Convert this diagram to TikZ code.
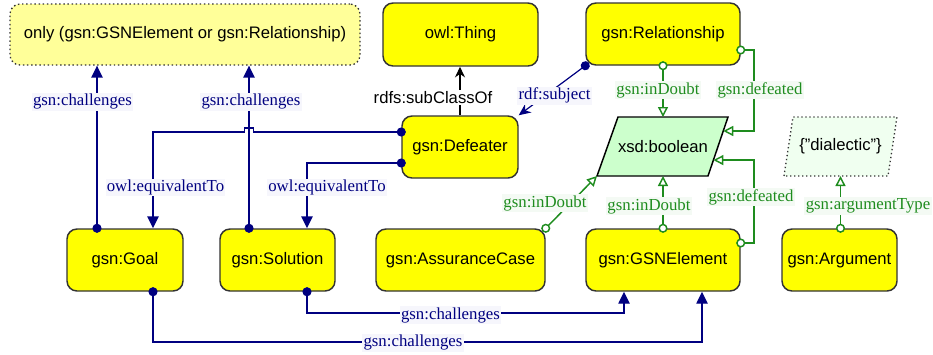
\documentclass[tikz,border=0pt]{standalone}
\usepackage{fontspec}
\setmainfont{Liberation Serif}
\setsansfont{Liberation Sans}
\usetikzlibrary{arrows.meta,calc}
\definecolor{navyc}{HTML}{000080}
\definecolor{greenc}{HTML}{1E8C1E}
\definecolor{yel}{HTML}{FFFF00}
\definecolor{paleyel}{HTML}{FFFF99}
\definecolor{palegreen}{HTML}{CCFFCC}
\definecolor{palergreen}{HTML}{F0FFF0}
\definecolor{bord}{HTML}{333333}
\definecolor{nvbg}{HTML}{F6F6FC}
\definecolor{grbg}{HTML}{F4FAF4}
\tikzset{
  cls/.style={draw=bord, line width=1.1pt, fill=yel, rounded corners=7.5pt,
    minimum height=62*0.75pt, font=\sffamily\fontsize{12.5pt}{14pt}\selectfont, inner sep=0pt},
  nv/.style={draw=navyc, line width=1.1pt},
  gr/.style={draw=greenc, line width=1.1pt},
  dotarr/.style={{Circle[length=6.8pt,width=6.8pt]}-{Triangle[length=9pt,width=8.5pt]}, shorten <=-3.4pt},
  ocarr/.style={{Circle[open,length=6.8pt,width=6.8pt,fill=white]}-{Triangle[open,length=7.5pt,width=7.5pt,fill=white]}, shorten <=-3.4pt},
  nvlbl/.style={text=navyc, fill=nvbg, inner sep=1pt, font=\fontsize{12.6pt}{14pt}\selectfont},
  grlbl/.style={text=greenc, fill=grbg, inner sep=1pt, font=\fontsize{12.6pt}{14pt}\selectfont},
  bklbl/.style={text=black, fill=white, inner sep=1pt, font=\sffamily\fontsize{12.5pt}{14pt}\selectfont},
}
\begin{document}
\begin{tikzpicture}[x=0.75pt,y=-0.75pt]
\useasboundingbox (0,0) rectangle (933,354);
% nodes
\node[cls, fill=paleyel, draw=bord, dotted, line width=1pt, minimum width=350*0.75pt, minimum height=61*0.75pt] (only) at (185,34.5) {only (gsn:GSNElement or gsn:Relationship)};
\node[cls, minimum width=155*0.75pt, minimum height=63*0.75pt] (thing) at (460.5,34.5) {owl:Thing};
\node[cls, minimum width=154*0.75pt] (rel) at (663,34) {gsn:Relationship};
\node[cls, minimum width=116*0.75pt] (def) at (460,147) {gsn:Defeater};
\node[cls, minimum width=116*0.75pt] (goal) at (125,260) {gsn:Goal};
\node[cls, minimum width=115*0.75pt] (sol) at (277.5,260) {gsn:Solution};
\node[cls, minimum width=169*0.75pt] (ac) at (460.5,260) {gsn:AssuranceCase};
\node[cls, minimum width=154*0.75pt] (gsne) at (663,260) {gsn:GSNElement};
\node[cls, minimum width=115*0.75pt] (arg) at (839.5,260) {gsn:Argument};
% parallelograms
\path (597,176) coordinate (xsdBL) (618,117) coordinate (xsdTL) (728,117) coordinate (xsdTR) (708,176) coordinate (xsdBR);
\filldraw[fill=palegreen, draw=black, line width=1.1pt] (xsdBL) -- (xsdTL) -- (xsdTR) -- (xsdBR) -- cycle;
\node[font=\sffamily\fontsize{12.5pt}{14pt}\selectfont, inner sep=0pt] (xsd) at (663,146.5) {xsd:boolean};
\path (784,176) coordinate (dBL) (793,117) coordinate (dTL) (897,117) coordinate (dTR) (888,176) coordinate (dBR);
\filldraw[fill=palergreen, draw=bord, dotted, line width=1pt] (dBL) -- (dTL) -- (dTR) -- (dBR) -- cycle;
\node[font=\sffamily\fontsize{12.5pt}{14pt}\selectfont, inner sep=0pt] (dia) at (840.5,146.5) {\{"dialectic"\}};
% guide coordinates
\coordinate (xA) at (97,0);
\coordinate (xB) at (249,0);
\coordinate (xC) at (153,0);
\coordinate (xD) at (307,0);
\coordinate (xE) at (624,0);
\coordinate (xF) at (702,0);
\coordinate (xG) at (754,0);
\coordinate (yA) at (0,132);
\coordinate (yB) at (0,163);
\coordinate (yC) at (0,313);
\coordinate (yD) at (0,342);
\coordinate (yE) at (0,50);
\coordinate (yF) at (0,243);
% navy edges
\draw[nv,dotarr] (goal.north -| xA) -- (only.south -| xA);
\draw[nv,dotarr] (sol.north -| xB) -- (only.south -| xB);
\draw[nv,dotarr] (def.west |- yA) -- ($(xB |- yA)+(4.5,0)$) -- ++(0,-4) -- ++(-9,0) -- ++(0,4) -| (goal.north -| xC);
\draw[nv,dotarr] (def.west |- yB) -| (sol.north -| xD);
\draw[nv,dotarr] (sol.south -| xD) |- (xE |- yC) -- (gsne.south -| xE);
\draw[nv,dotarr] (goal.south -| xC) |- (xF |- yD) -- (gsne.south -| xF);
\draw[nv,line width=0.9pt,{Circle[length=6.8pt,width=6.8pt]}-{Stealth[length=9pt,width=8pt]}, shorten <=-3.4pt] (rel.south west) -- (def.north east);
% black subclass
\draw[line width=1pt,-{Stealth[length=8pt,width=7.5pt]}] (def.north) -- (def.north |- thing.south);
% green edges
\draw[gr,ocarr] (rel.south) -- (rel.south |- xsdTL);
\draw[gr,ocarr] (rel.east |- yE) -- (xG |- yE) |- ($(xsdTR)!0.237!(xsdBR)$);
\draw[gr,ocarr] (gsne.east |- yF) -- (xG |- yF) |- ($(xsdTR)!0.73!(xsdBR)$);
\draw[gr,ocarr] (gsne.north) -- (gsne.north |- xsdBL);
\draw[gr,ocarr] (ac.north east) -- (xsdBL);
\draw[gr,ocarr] (arg.north -| dia) -- (dia |- dBL);
% labels
\node[nvlbl] (l1) at (82.5,101.7) {gsn:challenges};
\node[nvlbl] (l2) at (251,101.7) {gsn:challenges};
\node[nvlbl] (l3) at (165.5,187.5) {owl:equivalentTo};
\node[nvlbl] (l4) at (327,187.5) {owl:equivalentTo};
\node[bklbl] (l5) at (433,97.5) {rdfs:subClassOf};
\node[nvlbl] (l6) at (554.5,95.7) {rdf:subject};
\node[grlbl] (l7) at (658,90) {gsn:inDoubt};
\node[grlbl] (l8) at (760,90) {gsn:defeated};
\node[grlbl] (l9) at (545,203) {gsn:inDoubt};
\node[grlbl] (l10) at (649,206) {gsn:inDoubt};
\node[grlbl] (l11) at (751,197) {gsn:defeated};
\node[grlbl] (l12) at (868,206) {gsn:argumentType};
\node[nvlbl] (l13) at (450.5,315) {gsn:challenges};
\node[nvlbl] (l14) at (413,342.7) {gsn:challenges};
\end{tikzpicture}
\end{document}
